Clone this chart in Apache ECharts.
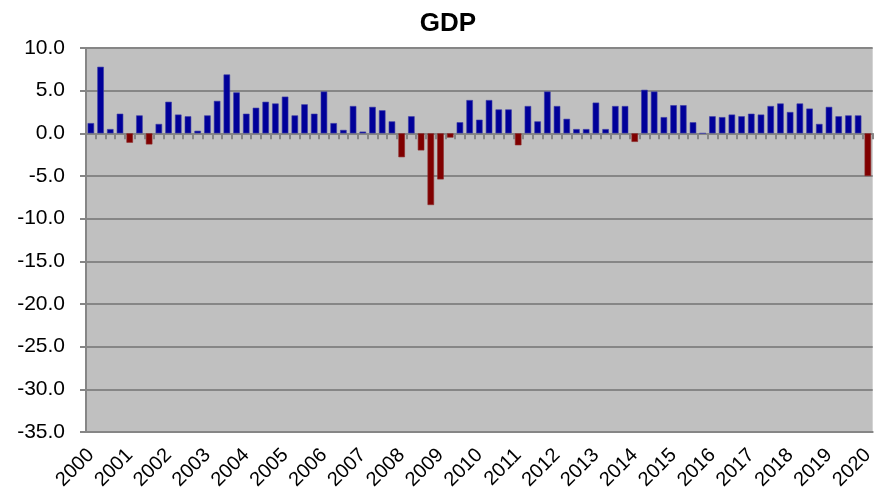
<!DOCTYPE html>
<html>
<head>
<meta charset="utf-8">
<script src="https://cdn.jsdelivr.net/npm/echarts@6/dist/echarts.min.js"></script>
<style>
    html, body { margin: 0; padding: 0; background: #fff; }
    #container { width: 877px; height: 502px; }
</style>
</head>
<body>
<div id="container"></div>
<script>
// quarterly GDP growth, 2000 Q1 .. 2020 Q1
const years = ['2000', '2001', '2002', '2003', '2004', '2005', '2006', '2007', '2008', '2009', '2010',
    '2011', '2012', '2013', '2014', '2015', '2016', '2017', '2018', '2019', '2020'];

const gdp = [
    1.2, 7.8, 0.5, 2.3,
    -1.1, 2.1, -1.3, 1.1,
    3.7, 2.2, 2.0, 0.3,
    2.1, 3.8, 6.9, 4.8,
    2.3, 3.0, 3.7, 3.5,
    4.3, 2.1, 3.4, 2.3,
    4.9, 1.2, 0.4, 3.2,
    0.2, 3.1, 2.7, 1.4,
    -2.8, 2.0, -2.0, -8.4,
    -5.4, -0.5, 1.3, 3.9,
    1.6, 3.9, 2.8, 2.8,
    -1.4, 3.2, 1.4, 4.9,
    3.2, 1.7, 0.5, 0.5,
    3.6, 0.5, 3.2, 3.2,
    -1.0, 5.1, 4.9, 1.9,
    3.3, 3.3, 1.3, 0.0,
    2.0, 1.9, 2.2, 2.0,
    2.3, 2.2, 3.2, 3.5,
    2.5, 3.5, 2.9, 1.1,
    3.1, 2.0, 2.1, 2.1,
    -5.0
];

const yTicks = { min: -35, max: 10, step: 5 };

// one category per quarter, year label on the first quarter
let categories = [];
for (let i = 0; i < gdp.length; i++) {
    categories.push(i % 4 === 0 ? years[i / 4] : '');
}

var dom = document.getElementById('container');
var myChart = echarts.init(dom, null, { renderer: 'canvas' });

var font = 'Liberation Sans, Arial, sans-serif';

var option = {
    animation: false,
    title: {
        text: 'GDP',
        left: 443,
        textAlign: 'center',
        top: 6,
        textStyle: {
            fontFamily: font,
            fontSize: 26,
            fontWeight: 'bold',
            color: '#000'
        }
    },
    grid: {
        left: 86,
        right: 0,
        top: 48,
        bottom: 70,
        show: true,
        backgroundColor: '#c0c0c0',
        borderWidth: 0
    },
    xAxis: [
        {
            // axis crossing at zero: ticks only
            type: 'category',
            data: categories,
            position: 'bottom',
            axisLine: { onZero: true, lineStyle: { color: '#868686', width: 2 } },
            axisTick: { show: true, interval: 0, length: 6, lineStyle: { color: '#868686', width: 2 } },
            axisLabel: { show: false },
            splitLine: { show: false }
        },
        {
            // labels at the bottom edge
            type: 'category',
            data: categories,
            position: 'bottom',
            axisLine: { onZero: false, lineStyle: { color: '#868686', width: 2 } },
            axisTick: { show: false },
            axisLabel: {
                interval: 3,
                rotate: 45,
                margin: 20,
                fontFamily: font,
                fontSize: 20,
                color: '#000'
            },
            splitLine: { show: false }
        }
    ],
    yAxis: {
        type: 'value',
        min: yTicks.min,
        max: yTicks.max,
        interval: yTicks.step,
        axisLine: { show: true, lineStyle: { color: '#868686', width: 2 } },
        axisTick: { show: true, length: 6, lineStyle: { color: '#868686', width: 2 } },
        axisLabel: {
            margin: 21,
            fontFamily: font,
            fontSize: 21,
            color: '#000',
            formatter: function (v) { return v.toFixed(1); }
        },
        splitLine: { show: true, lineStyle: { color: '#868686', width: 2 } }
    },
    series: [
        {
            name: 'GDP',
            type: 'bar',
            xAxisIndex: 0,
            barCategoryGap: '33%',
            data: gdp.map(v => ({
                value: v,
                itemStyle: {
                    color: v < 0 ? '#800000' : '#000099',
                    borderColor: v < 0 ? '#8c2a2a' : '#3a3aa8',
                    borderWidth: 0.6
                }
            }))
        }
    ]
};

if (option && typeof option === 'object') {
    myChart.setOption(option);
}

window.addEventListener('resize', myChart.resize);
</script>
</body>
</html>
